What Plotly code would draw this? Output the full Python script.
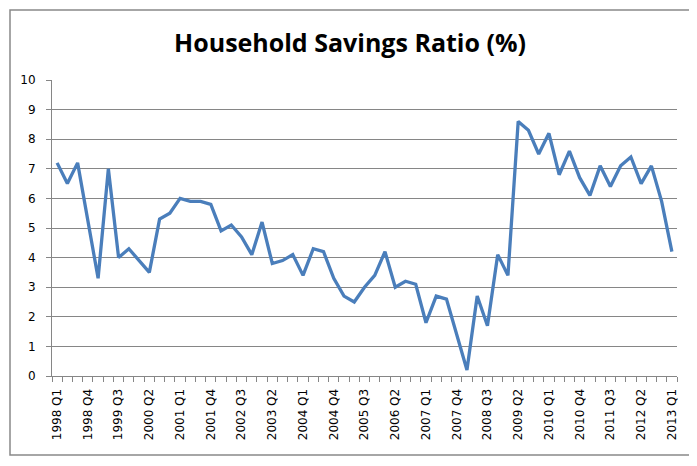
import plotly.graph_objects as go

quarters = [f"{y} Q{q}" for y in range(1998, 2014) for q in range(1, 5)][:61]
savings_ratio = [
    7.2, 6.5, 7.2, 5.2, 3.3, 7.0, 4.0, 4.3, 3.9, 3.5,
    5.3, 5.5, 6.0, 5.9, 5.9, 5.8, 4.9, 5.1, 4.7, 4.1,
    5.2, 3.8, 3.9, 4.1, 3.4, 4.3, 4.2, 3.3, 2.7, 2.5,
    3.0, 3.4, 4.2, 3.0, 3.2, 3.1, 1.8, 2.7, 2.6, 1.4,
    0.2, 2.7, 1.7, 4.1, 3.4, 8.6, 8.3, 7.5, 8.2, 6.8,
    7.6, 6.7, 6.1, 7.1, 6.4, 7.1, 7.4, 6.5, 7.1, 5.9,
    4.2,
]
label_step = 3
tick_idx = list(range(0, len(quarters), label_step))
tick_labels = [quarters[i] for i in tick_idx]
y_ticks = list(range(0, 11))

x_idx = list(range(len(quarters)))

fig = go.Figure()
fig.add_trace(go.Scatter(
    x=x_idx, y=savings_ratio, mode="lines",
    line=dict(color="#4A7EBB", width=3.3),
    customdata=quarters,
    hovertemplate="%{customdata}: %{y}<extra></extra>",
))

# the page body has an 8px margin, so the figure starts at (8, 8)
OFF = 8
W, H = 697 - OFF, 466 - OFF
L, T = 52 - OFF, 80 - OFF
R = W - (677 - OFF)
B = H - (376 - OFF)
pw, ph = W - L - R, H - T - B

fig.update_layout(
    width=W, height=H,
    margin=dict(l=L, r=R, t=T, b=B),
    paper_bgcolor="white", plot_bgcolor="white",
    showlegend=False,
    title=dict(text="<b>Household Savings Ratio (%)</b>", x=(350 - OFF) / W, xanchor="center",
               y=1 - (43 - OFF) / H, yanchor="middle",
               font=dict(family="Open Sans", size=25, color="black")),
    font=dict(family="DejaVu Sans", size=12, color="black"),
)
fig.update_xaxes(
    range=[-0.5, len(quarters) - 0.5],
    tickmode="array", tickvals=tick_idx, ticktext=tick_labels,
    tickangle=-90, ticks="outside", ticklen=7, tickcolor="rgba(0,0,0,0)",
    showgrid=False, zeroline=False,
    showline=True, linecolor="#868686", linewidth=1,
    minor=dict(ticks="outside", tick0=-0.5, dtick=1, ticklen=5,
               tickcolor="#868686", showgrid=False),
    tickfont=dict(family="DejaVu Sans", size=12),
)
fig.update_yaxes(
    range=[0, 10], tickmode="array", tickvals=y_ticks,
    ticks="outside", ticklen=5, tickcolor="#868686",
    showgrid=True, gridcolor="#868686", gridwidth=1,
    zeroline=False, showline=True, linecolor="#868686", linewidth=1,
    ticklabelstandoff=8,
    tickfont=dict(family="DejaVu Sans", size=12),
)
# chart-area border
fig.add_shape(type="rect", xref="paper", yref="paper",
              x0=(10 - 52) / pw, x1=(692 - 52) / pw,
              y0=(376 - 455) / ph, y1=(376 - 10) / ph,
              line=dict(color="#898989", width=1.5), layer="below")

fig.write_html("out.html")
